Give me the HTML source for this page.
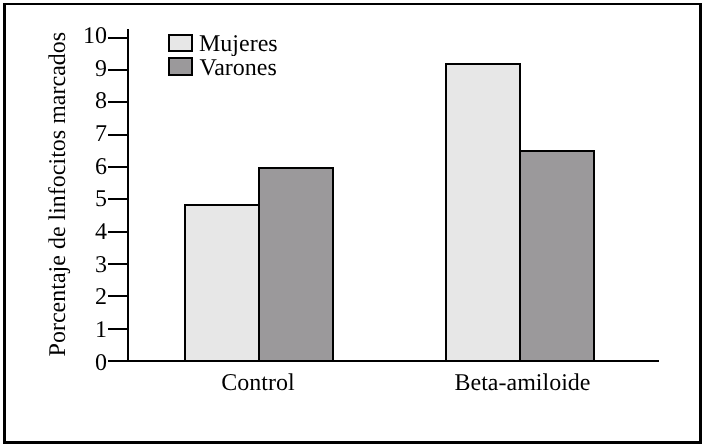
<!DOCTYPE html>
<html><head><meta charset="utf-8">
<style>
html,body{margin:0;padding:0;background:#fff;}
svg{display:block;will-change:transform;}
text{font-family:"Liberation Serif",serif;fill:#000;text-rendering:geometricPrecision;}
</style></head>
<body>
<svg width="705" height="446" viewBox="0 0 705 446">
<rect x="0" y="0" width="705" height="446" fill="#fff"/>
<!-- outer frame -->
<path d="M3 3 H702 V444 H3 Z M6 5 V441 H699 V5 Z" fill="#000" fill-rule="evenodd"/>
<!-- bars -->
<rect x="185" y="205" width="74" height="156" fill="#e7e7e7" stroke="#000" stroke-width="2"/>
<rect x="259" y="168" width="74" height="193" fill="#9b999b" stroke="#000" stroke-width="2"/>
<rect x="446" y="64" width="74" height="297" fill="#e7e7e7" stroke="#000" stroke-width="2"/>
<rect x="520" y="151" width="74" height="210" fill="#9b999b" stroke="#000" stroke-width="2"/>
<!-- axes -->
<rect x="127" y="29" width="2" height="333" fill="#000"/>
<rect x="108" y="360" width="551" height="2" fill="#000"/>
<!-- ticks -->
<g fill="#000">
<rect x="108" y="37" width="19" height="2"/>
<rect x="108" y="69" width="19" height="2"/>
<rect x="108" y="101" width="19" height="2"/>
<rect x="108" y="134" width="19" height="2"/>
<rect x="108" y="166" width="19" height="2"/>
<rect x="108" y="198" width="19" height="2"/>
<rect x="108" y="231" width="19" height="2"/>
<rect x="108" y="263" width="19" height="2"/>
<rect x="108" y="295" width="19" height="2"/>
<rect x="108" y="328" width="19" height="2"/>
</g>
<!-- y labels -->
<g font-size="24" text-anchor="end">
<text x="107" y="43.0">10</text>
<text x="107" y="75.7">9</text>
<text x="107" y="108.3">8</text>
<text x="107" y="141.0">7</text>
<text x="107" y="173.6">6</text>
<text x="107" y="206.3">5</text>
<text x="107" y="239.0">4</text>
<text x="107" y="271.6">3</text>
<text x="107" y="304.3">2</text>
<text x="107" y="336.9">1</text>
<text x="107" y="369.6">0</text>
</g>
<!-- legend -->
<rect x="169" y="35" width="23" height="16" fill="#e7e7e7" stroke="#000" stroke-width="2"/>
<rect x="169" y="58" width="23" height="17" fill="#9b999b" stroke="#000" stroke-width="2"/>
<g font-size="24">
<text x="199" y="51">Mujeres</text>
<text x="199.5" y="74.8">Varones</text>
</g>
<!-- x labels -->
<g font-size="24" text-anchor="middle">
<text x="258" y="390">Control</text>
<text x="522.5" y="389.5">Beta-amiloide</text>
</g>
<!-- y title -->
<text font-size="24" transform="translate(65 356.4) rotate(-90)">Porcentaje de linfocitos marcados</text>
</svg>
</body></html>
